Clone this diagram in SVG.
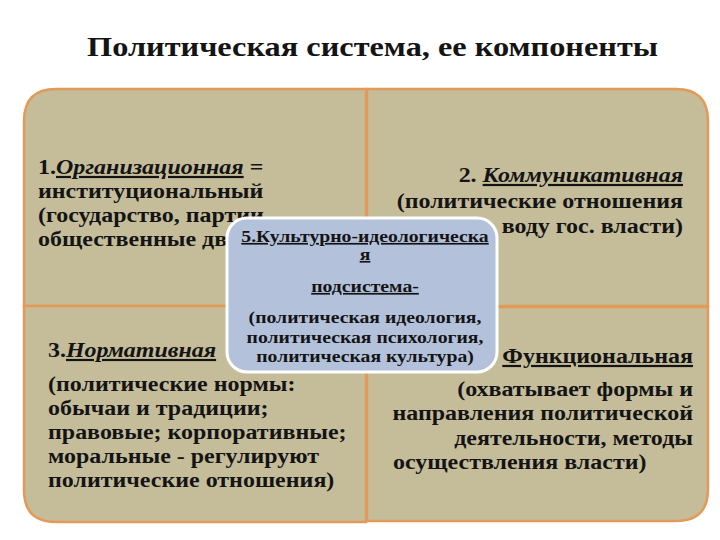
<svg xmlns="http://www.w3.org/2000/svg" width="720" height="540" viewBox="0 0 720 540">
<style>
.q{fill:#C5BD9A;stroke:#E39A58;stroke-width:2.5}
.t{font-family:"Liberation Serif","Times New Roman",serif;font-weight:bold;fill:#141414}
.b{font-size:22px}
.c{font-size:17px}
.u{text-decoration:underline}
.i{font-style:italic}
</style>
<rect width="720" height="540" fill="#FFFFFF"/>
<text class="t" x="87" y="56" font-size="28" textLength="571" lengthAdjust="spacingAndGlyphs">Политическая система, ее компоненты</text>
<g id="q1">
<path class="q" d="M24,306 V121 Q24,89 56,89 H366 V306 Z"/>
<g class="t b" transform="matrix(1.09,0,0,1,38,0)">
<text x="0" y="174">1.<tspan class="i u">Организационная</tspan> =</text>
<text x="0" y="198">институциональный</text>
<text x="0" y="222">(государство, партии,</text>
<text x="0" y="246">общественные дв</text>
</g>
</g>
<g id="q2">
<path class="q" d="M367,89 H676 Q708,89 708,121 V306 H367 Z"/>
<g class="t b" transform="matrix(1.09,0,0,1,683,0)" text-anchor="end">
<text x="0" y="182">2. <tspan class="i u">Коммуникативная</tspan></text>
<text x="0" y="208">(политические отношения</text>
<text x="0" y="233">воду гос. власти)</text>
</g>
</g>
<g id="q3">
<path class="q" d="M24,306 H366 V522 H56 Q24,522 24,490 Z"/>
<g class="t b" transform="matrix(1.09,0,0,1,48,0)">
<text x="0" y="357">3.<tspan class="i u">Нормативная</tspan></text>
<text x="0" y="391">(политические нормы:</text>
<text x="0" y="415">обычаи и традиции;</text>
<text x="0" y="439">правовые; корпоративные;</text>
<text x="0" y="463">моральные - регулируют</text>
<text x="0" y="487">политические отношения)</text>
</g>
</g>
<g id="q4">
<path class="q" d="M367,307 H708 V489 Q708,521 676,521 H367 Z"/>
<g class="t b" transform="matrix(1.09,0,0,1,693,0)">
<text x="0" y="363" text-anchor="end" class="u">Функциональная</text>
<text x="0" y="396" text-anchor="end">(охватывает формы и</text>
<text x="0" y="420" text-anchor="end">направления политической</text>
<text x="0" y="445" text-anchor="end">деятельности, методы</text>
<text x="-275.2" y="469">осуществления власти)</text>
</g>
</g>
<g id="q5">
<rect x="227" y="218" width="270" height="154" rx="20" fill="#B3C1DB" stroke="#FFFFFF" stroke-width="3"/>
<g class="t c" transform="matrix(1.16,0,0,1,365,0)" text-anchor="middle">
<text x="0" y="242" class="u">5.Культурно-идеологическа</text>
<text x="0" y="260" class="u">я</text>
<text x="0" y="292" class="u">подсистема-</text>
<text x="0" y="323">(политическая идеология,</text>
<text x="0" y="343">политическая психология,</text>
<text x="0" y="362">политическая культура)</text>
</g>
</g>
<g id="connectors"></g>
</svg>
